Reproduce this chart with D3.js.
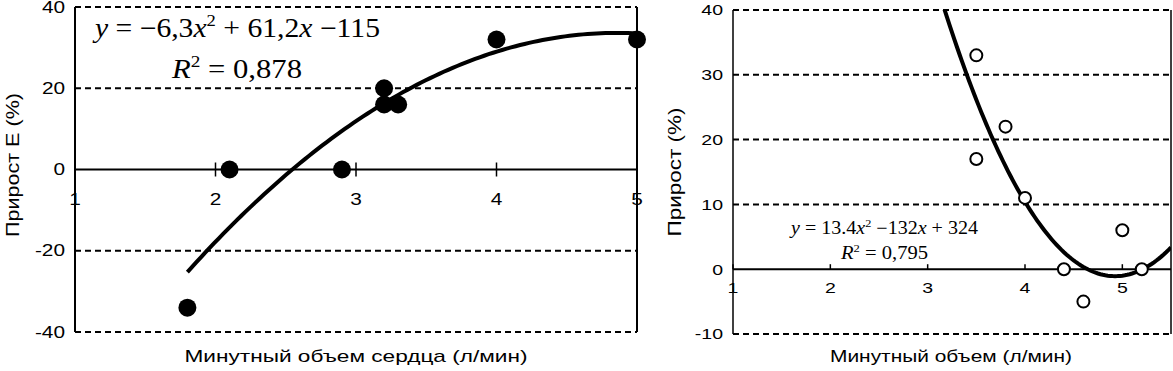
<!DOCTYPE html>
<html>
<head>
<meta charset="utf-8">
<script src="https://cdn.jsdelivr.net/npm/d3@7"></script>
<style>
  body { margin: 0; background: #fff; }
  svg { display: block; }
  text { font-family: "Liberation Sans", Arial, sans-serif; fill: #000; }
  .eq { font-family: "Liberation Serif", "Times New Roman", serif; }
</style>
</head>
<body>
<svg width="1173" height="371"></svg>
<script>
// left panel: cardiac output vs E gain
var leftX = [1.8, 2.1, 2.9, 3.2, 3.2, 3.3, 4.0, 5.0];
var leftY = [-34, 0, 0, 20, 16, 16, 32, 32];
var leftFit = [-6.3, 61.2, -115];          // a, b, c of y = ax^2 + bx + c
var leftXTicks = [1, 2, 3, 4, 5];
var leftYTicks = [-40, -20, 0, 20, 40];

// right panel: minute volume vs gain
var rightX = [3.5, 3.8, 3.5, 4.0, 4.4, 4.6, 5.0, 5.2];
var rightY = [33, 22, 17, 11, 0, -5, 6, 0];
var rightFit = [13.4, -132, 324];
var rightXTicks = [1, 2, 3, 4, 5];
var rightYTicks = [-10, 0, 10, 20, 30, 40];

var svg = d3.select('svg');

// source picture is stretched sideways, widen the sans text to match
function widen(sel, k) {
    sel.each(function() {
        var len = this.getComputedTextLength();
        d3.select(this).attr('textLength', len * k).attr('lengthAdjust', 'spacingAndGlyphs');
    });
}

function fitLine(fit, x0, x1) {
    var pts = [];
    for (var i = 0; i <= 100; i++) {
        var x = x0 + (x1 - x0) * i / 100;
        pts.push([x, fit[0] * x * x + fit[1] * x + fit[2]]);
    }
    return pts;
}

function panel(opt) {
    var g = svg.append('g');
    var x = d3.scaleLinear().domain(opt.xDomain).range(opt.xRange);
    var y = d3.scaleLinear().domain(opt.yDomain).range(opt.yRange);
    var left = opt.xRange[0], right = opt.xRange[1];

    // dashed grid
    g.selectAll('line.grid')
        .data(opt.yTicks.filter(function(d){ return d !== 0; }))
        .enter().append('line')
        .attr('x1', left).attr('x2', right)
        .attr('y1', function(d){ return y(d); })
        .attr('y2', function(d){ return y(d); })
        .attr('stroke', '#000').attr('stroke-width', 2)
        .attr('stroke-dasharray', '6,4');

    // y axis labels
    var ya = g.append('g')
        .attr('transform', 'translate(' + left + ',0)')
        .call(d3.axisLeft(y).tickValues(opt.yTicks).tickSize(0).tickPadding(10));
    ya.select('.domain').remove();
    ya.selectAll('text').style('font-size', opt.tickFont + 'px').style('font-family', null)
        .text(function(d){ return String(d); });
    widen(ya.selectAll('text'), 1.3);

    // frame lines
    g.append('line').attr('x1', left).attr('x2', left)
        .attr('y1', opt.yRange[1]).attr('y2', opt.yRange[0])
        .attr('stroke', '#000').attr('stroke-width', opt.axisW);
    g.append('line').attr('x1', right).attr('x2', right)
        .attr('y1', opt.yRange[1]).attr('y2', opt.yRange[0])
        .attr('stroke', '#000').attr('stroke-width', opt.axisW);

    // x axis at y = 0
    var xa = g.append('g').attr('transform', 'translate(0,' + y(0) + ')');
    xa.append('line').attr('x1', left).attr('x2', right)
        .attr('stroke', '#000').attr('stroke-width', 2);
    xa.selectAll('line.tick').data(opt.xTicks).enter().append('line')
        .attr('x1', function(d){ return x(d); })
        .attr('x2', function(d){ return x(d); })
        .attr('y1', -opt.tickUp).attr('y2', opt.tickDown)
        .attr('stroke', '#000').attr('stroke-width', 1.5);
    var xl = xa.selectAll('text').data(opt.xTicks).enter().append('text')
        .attr('x', function(d){ return x(d); })
        .attr('y', opt.labelOff)
        .attr('text-anchor', 'middle')
        .style('font-size', opt.tickFont + 'px')
        .text(function(d){ return d; });
    widen(xl, 1.3);

    // trend line
    var line = d3.line()
        .x(function(d){ return x(d[0]); })
        .y(function(d){ return y(d[1]); });
    var clipId = 'clip' + left;
    g.append('clipPath').attr('id', clipId).append('rect')
        .attr('x', left).attr('y', opt.yRange[1])
        .attr('width', right - left).attr('height', opt.yRange[0] - opt.yRange[1]);
    g.append('path')
        .datum(fitLine(opt.fit, opt.fitRange[0], opt.fitRange[1]))
        .attr('clip-path', 'url(#' + clipId + ')')
        .attr('d', line)
        .attr('fill', 'none').attr('stroke', '#000').attr('stroke-width', 4);

    // points
    g.selectAll('circle').data(opt.xs).enter().append('circle')
        .attr('cx', function(d){ return x(d); })
        .attr('cy', function(d, i){ return y(opt.ys[i]); })
        .attr('r', opt.r)
        .attr('fill', opt.filled ? '#000' : '#fff')
        .attr('stroke', '#000').attr('stroke-width', opt.filled ? 0 : 2);

    // axis titles
    g.append('text')
        .attr('transform', 'translate(' + opt.yTitleX + ',' + opt.yTitleY + ') rotate(-90)')
        .attr('text-anchor', 'middle').attr('dy', '0.35em')
        .style('font-size', '18px')
        .attr('textLength', opt.yTitleLen).attr('lengthAdjust', 'spacingAndGlyphs')
        .text(opt.yTitle);
    g.append('text')
        .attr('x', opt.xTitleX).attr('y', 362)
        .attr('text-anchor', 'middle')
        .style('font-size', '17px')
        .attr('textLength', opt.xTitleLen).attr('lengthAdjust', 'spacingAndGlyphs')
        .text(opt.xTitle);

    return g;
}

var gl = panel({
    xDomain: [1, 5], xRange: [75, 637],
    yDomain: [-40, 40], yRange: [332, 7],
    yTicks: leftYTicks, xTicks: leftXTicks,
    xs: leftX, ys: leftY, fit: leftFit, fitRange: [1.8, 5],
    filled: true, r: 9, axisW: 2, tickUp: 7, tickDown: 7, labelOff: 35,
    tickFont: 16,
    yTitle: 'Прирост Е (%)', yTitleX: 13, yTitleY: 165, yTitleLen: 144,
    xTitle: 'Минутный объем сердца (л/мин)', xTitleX: 356, xTitleLen: 343
});

var gr = panel({
    xDomain: [1, 5.5], xRange: [733, 1171],
    yDomain: [-10, 40], yRange: [334, 10],
    yTicks: rightYTicks, xTicks: rightXTicks,
    xs: rightX, ys: rightY, fit: rightFit, fitRange: [3, 5.5],
    filled: false, r: 6, axisW: 1.5, tickUp: 5, tickDown: 0, labelOff: 24,
    tickFont: 15,
    yTitle: 'Прирост (%)', yTitleX: 675, yTitleY: 172, yTitleLen: 129,
    xTitle: 'Минутный объем (л/мин)', xTitleX: 951, xTitleLen: 242
});

// equations
var e1 = gl.append('text').attr('class', 'eq').attr('x', 95).attr('y', 37)
    .style('font-size', '27px').attr('textLength', 285).attr('lengthAdjust', 'spacingAndGlyphs');
e1.append('tspan').style('font-style', 'italic').text('y');
e1.append('tspan').text(' = −6,3');
e1.append('tspan').style('font-style', 'italic').text('x');
e1.append('tspan').attr('dy', -11).style('font-size', '17px').text('2');
e1.append('tspan').attr('dy', 11).text(' + 61,2');
e1.append('tspan').style('font-style', 'italic').text('x');
e1.append('tspan').text(' −115');

var r1 = gl.append('text').attr('class', 'eq').attr('x', 172).attr('y', 78)
    .style('font-size', '27px').attr('textLength', 130).attr('lengthAdjust', 'spacingAndGlyphs');
r1.append('tspan').style('font-style', 'italic').text('R');
r1.append('tspan').attr('dy', -11).style('font-size', '17px').text('2');
r1.append('tspan').attr('dy', 11).text(' = 0,878');

var e2 = gr.append('text').attr('class', 'eq').attr('x', 791).attr('y', 234)
    .style('font-size', '18px').attr('textLength', 187).attr('lengthAdjust', 'spacingAndGlyphs');
e2.append('tspan').style('font-style', 'italic').text('y');
e2.append('tspan').text(' = 13.4');
e2.append('tspan').style('font-style', 'italic').text('x');
e2.append('tspan').attr('dy', -7).style('font-size', '11px').text('2');
e2.append('tspan').attr('dy', 7).text(' −132');
e2.append('tspan').style('font-style', 'italic').text('x');
e2.append('tspan').text(' + 324');

var r2 = gr.append('text').attr('class', 'eq').attr('x', 841).attr('y', 259)
    .style('font-size', '18px').attr('textLength', 87).attr('lengthAdjust', 'spacingAndGlyphs');
r2.append('tspan').style('font-style', 'italic').text('R');
r2.append('tspan').attr('dy', -7).style('font-size', '11px').text('2');
r2.append('tspan').attr('dy', 7).text(' = 0,795');
</script>
</body>
</html>
